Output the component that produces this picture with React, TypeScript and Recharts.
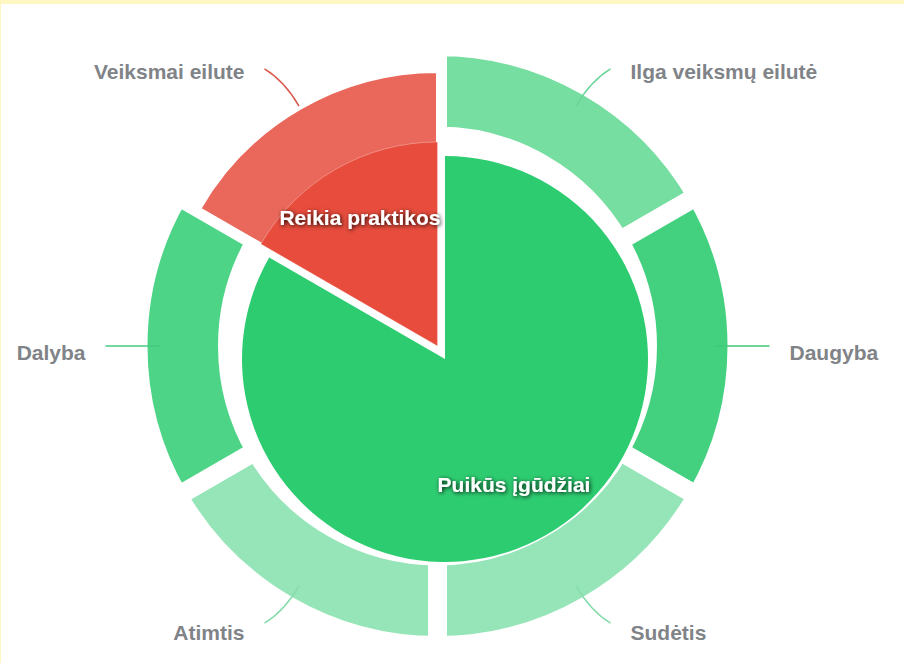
import React from 'react';
import { PieChart, Pie, Cell } from 'recharts';

const outerNames = ['Ilga veiksmų eilutė', 'Daugyba', 'Sudėtis', 'Atimtis', 'Dalyba', 'Veiksmai eilute'];
const outerValues = [1, 1, 1, 1, 1, 1];
const outerColors = ['#77dea2', '#43d17f', '#96e5b8', '#96e5b8', '#4dd486', '#ea685b'];
const outerLineColors = ['#6ad598', '#3fc978', '#86dcac', '#86dcac', '#45cc7e', '#d9594c'];
const outerNeedsPractice = [false, false, false, false, false, true];

const innerNames = ['Puikūs įgūdžiai', 'Reikia praktikos'];
const innerValues = [5, 1];
const innerColors = ['#2ecc71', '#e74c3c'];

const outerData = outerNames.map((name, i) => ({ name, value: outerValues[i] }));
const innerData = innerNames.map((name, i) => ({ name, value: innerValues[i] }));

const RAD = Math.PI / 180;
const CX = 437.5;
const CY = 346;
const EXPLODE = 15;
const FONT = 'Arial, "Liberation Sans", sans-serif';

// the "good skills" slice is pulled out along its own mid angle
const innerTotal = innerValues.reduce((a, b) => a + b, 0);
const greenMid = 90 - (360 * innerValues[0]) / 2 / innerTotal;
const GCX = CX + EXPLODE * Math.cos(-greenMid * RAD);
const GCY = CY + EXPLODE * Math.sin(-greenMid * RAD);

function OuterLabel(props: any) {
  const { cx, cy, midAngle, index, name } = props;
  const c = Math.cos(-midAngle * RAD);
  const s = Math.sin(-midAngle * RAD);
  const pt = (r: number) => [cx + r * c, cy + r * s];
  const [x0, y0] = pt(277);
  const [x1, y1] = pt(306);
  const [xb, yb] = pt(318);
  const sign = c >= -0.001 ? 1 : -1;
  const xe = xb + sign * 14;
  const ye = yb + s * 2;
  return (
    <g>
      <path
        d={`M${x0},${y0} Q${x1},${y1} ${xe},${ye}`}
        fill="none"
        stroke={outerLineColors[index]}
        strokeWidth={1.5}
      />
      <text
        x={xb + sign * 34}
        y={yb + s * 6 + 6}
        textAnchor={sign > 0 ? 'start' : 'end'}
        dominantBaseline="central"
        fill="#808387"
        fontFamily={FONT}
        fontWeight="bold"
        fontSize={21}
      >
        {name}
      </text>
    </g>
  );
}

function InnerLabel(props: any) {
  const { midAngle, index, name } = props;
  const r = index === 1 ? 155 : 153;
  const x = CX + r * Math.cos(-midAngle * RAD);
  const y = CY + r * Math.sin(-midAngle * RAD);
  return (
    <g>
      {index === 0 && (
        <defs>
          <filter id="txtShadow" x="-20%" y="-60%" width="140%" height="220%">
            <feDropShadow dx="1" dy="1" stdDeviation="2" floodColor="#000" floodOpacity="0.9" />
          </filter>
        </defs>
      )}
      <text
        x={x}
        y={y + 6}
        textAnchor="middle"
        dominantBaseline="central"
        fill="#ffffff"
        fontFamily={FONT}
        fontWeight="bold"
        fontSize={21}
        filter="url(#txtShadow)"
      >
        {name}
      </text>
    </g>
  );
}

export default function App() {
  return (
    <div style={{ position: 'absolute', left: 0, top: 0, width: 904, height: 663, background: '#fff' }}>
      <div style={{ position: 'absolute', left: 0, top: 0, width: 904, height: 4, background: '#fff7c2' }} />
      <div style={{ position: 'absolute', left: 0, top: 0, width: 1, height: 663, background: '#fff7c2' }} />
      <div style={{ position: 'absolute', left: 0, top: 0 }}>
        <PieChart width={904} height={663} margin={{ top: 0, right: 0, bottom: 0, left: 0 }}>
          {/* outer ring */}
          <Pie
            data={outerData}
            dataKey="value"
            nameKey="name"
            cx={CX}
            cy={CY}
            innerRadius={210}
            outerRadius={299.5}
            startAngle={90}
            endAngle={-270}
            isAnimationActive={false}
            labelLine={false}
            label={OuterLabel}
          >
            {outerData.map((d, i) => (
              <Cell
                key={d.name}
                fill={outerNeedsPractice[i] ? 'none' : outerColors[i]}
                stroke={outerNeedsPractice[i] ? 'none' : '#ffffff'}
                strokeWidth={19}
              />
            ))}
          </Pie>
          {/* outer slice that needs practice */}
          <Pie
            data={outerData}
            dataKey="value"
            nameKey="name"
            cx={CX}
            cy={CY}
            innerRadius={0}
            outerRadius={274.5}
            startAngle={90}
            endAngle={-270}
            isAnimationActive={false}
          >
            {outerData.map((d, i) => (
              <Cell
                key={d.name}
                fill={outerNeedsPractice[i] ? outerColors[i] : 'none'}
                stroke={outerNeedsPractice[i] ? '#ffffff' : 'none'}
                strokeWidth={3}
              />
            ))}
          </Pie>
          {/* inner red slice */}
          <Pie
            data={innerData}
            dataKey="value"
            nameKey="name"
            cx={CX}
            cy={CY}
            innerRadius={0}
            outerRadius={204}
            startAngle={90}
            endAngle={-270}
            isAnimationActive={false}
          >
            {innerData.map((d, i) => (
              <Cell
                key={d.name}
                fill={i === 1 ? innerColors[i] : 'none'}
                stroke={i === 1 ? 'rgba(255,255,255,0.3)' : 'none'}
                strokeWidth={1}
              />
            ))}
          </Pie>
          {/* inner green slice, pulled out */}
          <Pie
            data={innerData}
            dataKey="value"
            nameKey="name"
            cx={GCX}
            cy={GCY}
            innerRadius={0}
            outerRadius={203}
            startAngle={90}
            endAngle={-270}
            isAnimationActive={false}
          >
            {innerData.map((d, i) => (
              <Cell key={d.name} fill={i === 0 ? innerColors[i] : 'none'} stroke="none" />
            ))}
          </Pie>
          {/* inner labels on top */}
          <Pie
            data={innerData}
            dataKey="value"
            nameKey="name"
            cx={CX}
            cy={CY}
            innerRadius={0}
            outerRadius={204}
            startAngle={90}
            endAngle={-270}
            isAnimationActive={false}
            labelLine={false}
            label={InnerLabel}
          >
            {innerData.map((d) => (
              <Cell key={d.name} fill="none" stroke="none" />
            ))}
          </Pie>
        </PieChart>
      </div>
    </div>
  );
}
